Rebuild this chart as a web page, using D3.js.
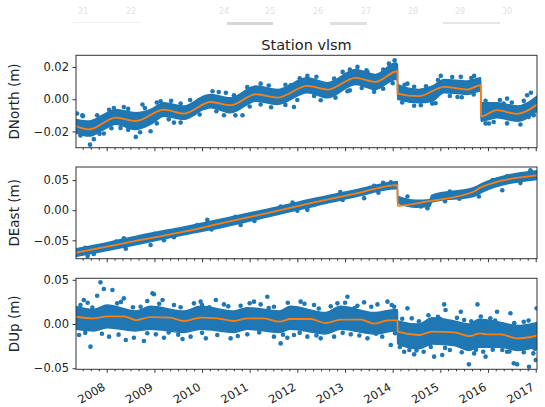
<html>
<head>
<meta charset='utf-8'>
<script src='https://d3js.org/d3.v7.min.js'></script>
<style>
  body { margin: 0; background: #fff; }
  text { font-family: 'DejaVu Sans', sans-serif; fill: #222; }
</style>
</head>
<body>
<div id='chart'></div>
<script>
// ---- data (time in fractional years) ----
const title = 'Station vlsm';
const yearTicks = [2008, 2009, 2010, 2011, 2012, 2013, 2014, 2015, 2016, 2017];

// DNorth
const northTrend = [[2007.35,-0.0166],[2007.63,-0.0187],[2008.19,-0.0114],[2008.61,-0.0135],[2009.20,-0.0064],[2009.62,-0.0089],
  [2010.18,-0.0017],[2010.60,-0.0037],[2011.13,0.0031],[2011.58,0.0010],[2012.21,0.0083],[2012.63,0.0060],[2013.22,0.0133],
  [2013.64,0.0108],[2014.10,0.0174],[2014.103,0.0035],[2014.55,0.0019],[2015.08,0.0077],[2015.56,0.0060],[2015.85,0.0087],
  [2015.853,-0.0106],[2016.19,-0.0068],[2016.61,-0.0091],[2017.03,-0.0033]];
const northBand = [[2007.35,-0.0208,-0.0125],[2007.63,-0.0229,-0.0135],[2007.94,-0.0188,-0.0094],[2008.19,-0.0156,-0.0063],
  [2008.61,-0.0188,-0.0084],[2008.92,-0.0156,-0.0063],[2009.20,-0.0105,-0.0022],[2009.62,-0.0125,-0.0042],[2010.04,-0.0063,0.0020],
  [2010.18,-0.0053,0.0030],[2010.60,-0.0084,0.0009],[2011.13,-0.0012,0.0082],[2011.58,-0.0032,0.0061],[2012.21,0.0040,0.0134],
  [2012.63,0.0009,0.0103],[2013.22,0.0092,0.0185],[2013.64,0.0061,0.0154],[2014.06,0.0123,0.0227],[2014.10,0.0123,0.0215],
  [2014.103,-0.0001,0.0092],[2014.55,-0.0022,0.0061],[2014.83,-0.0012,0.0082],[2015.08,0.0040,0.0123],[2015.56,0.0030,0.0113],
  [2015.85,0.0051,0.0134],[2015.853,-0.0136,-0.0022],[2016.19,-0.0115,-0.0022],[2016.61,-0.0136,-0.0042],[2017.03,-0.0074,0.0020]];
const northDots = [[2007.65,-0.0282],[2007.38,-0.0089],[2007.49,-0.0099],[2007.73,-0.0248],[2008.61,-0.0234],[2008.92,-0.0199],
  [2008.15,-0.0054],[2008.75,-0.0033],[2009.55,-0.0027],[2010.22,0.0050],[2010.85,-0.0099],[2012.21,0.0145],[2013.26,0.0201],
  [2014.04,0.0242],[2013.92,0.0221],[2014.83,-0.0027],[2015.43,0.0139],[2016.02,-0.0151],[2016.68,-0.0157],[2016.82,0.0025],
  [2016.33,-0.0027],[2008.36,-0.0048],[2009.13,-0.0012],[2009.90,-0.0037],[2010.67,0.0025],[2011.23,0.0097],[2011.86,0.0087],
  [2012.77,0.0128],[2013.47,0.0170],[2014.31,0.0097],[2015.01,0.0145],[2015.71,0.0145],[2016.40,0.0004],[2007.94,-0.0213],
  [2008.29,-0.0178],[2009.41,-0.0145],[2009.83,-0.0089],[2010.46,-0.0099],[2011.23,-0.0033],[2011.93,-0.0048],[2012.49,-0.0006],
  [2013.05,0.0050],[2013.61,0.0046],[2014.59,-0.0037],[2015.36,0.0014],[2016.12,-0.0141],[2016.96,-0.0099],
  [2007.50,-0.0105],[2007.80,-0.0100],[2008.05,-0.0065],[2008.45,-0.0060],[2008.80,-0.0055],[2009.05,-0.0020],[2009.35,-0.0010],
  [2009.75,-0.0005],[2010.35,0.0045],[2010.50,0.0040],[2010.95,0.0075],[2011.40,0.0085],[2011.75,0.0090],[2012.05,0.0130],
  [2012.40,0.0140],[2012.95,0.0170],[2013.10,0.0185],[2013.45,0.0180],[2013.80,0.0185],[2014.25,0.0090],[2014.45,0.0078],
  [2014.70,0.0080],[2014.95,0.0120],[2015.25,0.0138],[2015.65,0.0132],[2015.95,-0.0010],[2016.25,-0.0005],[2016.50,-0.0020],
  [2016.75,-0.0010],[2016.90,0.0040],
  [2007.45,-0.0225],[2007.85,-0.0215],[2008.10,-0.0180],[2008.45,-0.0190],[2008.70,-0.0205],[2009.05,-0.0150],[2009.30,-0.0125],
  [2009.55,-0.0145],[2009.95,-0.0095],[2010.30,-0.0075],[2010.70,-0.0100],[2011.00,-0.0045],[2011.45,-0.0050],[2011.75,-0.0035],
  [2012.00,-0.0005],[2012.35,0.0020],[2012.80,0.0010],[2013.10,0.0055],[2013.35,0.0070],[2013.80,0.0065],[2014.00,0.0100],
  [2014.20,-0.0020],[2014.45,-0.0040],[2014.90,-0.0025],[2015.20,0.0020],[2015.45,0.0012],[2015.70,0.0030],[2015.95,-0.0150],
  [2016.40,-0.0150],[2016.85,-0.0110]];

// DEast
const eastTrend = [[2007.35,-0.0706],[2008.01,-0.0606],[2008.71,-0.0494],[2009.62,-0.0356],[2010.46,-0.0206],[2011.37,-0.0050],
  [2012.35,0.0128],[2013.26,0.0283],[2014.10,0.0417],[2014.103,0.0072],[2014.73,0.0145],[2015.71,0.0311],[2015.86,0.0383],
  [2017.03,0.0578]];
const eastBand = [[2007.35,-0.0768,-0.0639],[2008.01,-0.0668,-0.0539],[2008.71,-0.0556,-0.0416],[2009.62,-0.0406,-0.0277],
  [2010.46,-0.0279,-0.0138],[2011.37,-0.0112,0.0017],[2012.35,0.0066,0.0195],[2013.26,0.0233,0.0345],[2014.06,0.0355,0.0473],
  [2014.10,0.0355,0.0475],[2014.103,0.0122,0.0234],[2014.50,0.0050,0.0165],[2014.78,0.0065,0.0175],[2014.82,0.0135,0.0250],
  [2015.71,0.0233,0.0378],[2015.88,0.0300,0.0445],[2017.03,0.0511,0.0656]];
const eastDots = [[2007.73,-0.0728],[2008.92,-0.0578],[2008.36,-0.0467],[2010.11,-0.0161],[2011.65,0.0061],[2012.63,0.0200],
  [2013.61,0.0406],[2013.96,0.0461],[2014.31,0.0228],[2014.59,0.0061],[2015.57,0.0311],[2015.81,0.0228],[2016.40,0.0561],
  [2016.89,0.0661],[2009.41,-0.0450],[2010.81,-0.0245],[2012.21,0.0006],[2013.40,0.0200],[2014.73,0.0033],[2016.68,0.0450],
  [2007.55,-0.0625],[2008.20,-0.0520],[2009.00,-0.0390],[2009.90,-0.0245],[2010.70,-0.0110],[2011.90,0.0125],[2012.90,0.0300],
  [2013.80,0.0455],[2015.20,0.0310],[2016.10,0.0500],[2016.70,0.0600],
  [2007.60,-0.0760],[2008.40,-0.0640],[2009.20,-0.0500],[2010.20,-0.0320],[2011.10,-0.0180],[2012.00,-0.0010],[2012.95,0.0170],
  [2013.70,0.0290],[2015.10,0.0150],[2015.40,0.0190],[2016.30,0.0330]];

// DUp
const upTrend = [[2007.35,0.0083],[2007.73,0.0064],[2008.01,0.0087],[2008.36,0.0087],[2008.61,0.0045],[2008.92,0.0079],
  [2009.34,0.0072],[2009.62,0.0034],[2009.97,0.0072],[2010.32,0.0064],[2010.67,0.0034],[2010.95,0.0064],[2011.30,0.0064],
  [2011.62,0.0026],[2011.86,0.0057],[2012.28,0.0057],[2012.59,0.0011],[2012.91,0.0049],[2013.33,0.0049],[2013.61,0.0004],
  [2013.89,0.0041],[2014.10,0.0041],[2014.103,-0.0087],[2014.55,-0.0124],[2014.83,-0.0087],[2015.29,-0.0094],[2015.60,-0.0136],
  [2015.79,-0.0110],[2015.83,-0.0106],[2015.98,-0.0117],[2016.27,-0.0117],[2016.61,-0.0162],[2017.03,-0.0132]];
const upBand = [[2007.35,-0.0060,0.0200],[2007.73,-0.0078,0.0165],[2008.01,-0.0042,0.0215],[2008.61,-0.0078,0.0148],
  [2008.92,-0.0060,0.0200],[2009.62,-0.0095,0.0148],[2009.97,-0.0060,0.0200],[2010.67,-0.0095,0.0148],[2010.95,-0.0060,0.0185],
  [2011.62,-0.0095,0.0148],[2011.86,-0.0060,0.0200],[2012.59,-0.0112,0.0130],[2012.91,-0.0060,0.0200],[2013.61,-0.0112,0.0130],
  [2014.06,-0.0078,0.0165],[2014.10,-0.0080,0.0160],[2014.103,-0.0225,0.0035],[2014.55,-0.0280,0.0000],[2014.83,-0.0225,0.0072],
  [2015.29,-0.0243,0.0035],[2015.60,-0.0298,0.0000],[2015.81,-0.0262,0.0054],[2016.27,-0.0262,0.0018],[2016.61,-0.0298,-0.0018],
  [2017.03,-0.0262,0.0018]];
const upDots = [[2007.87,0.0471],[2007.94,0.0396],[2008.12,0.0385],[2007.80,0.0320],[2007.52,0.0271],[2007.66,-0.0256],
  [2008.40,-0.0181],[2008.57,-0.0155],[2008.78,-0.0192],[2008.96,0.0347],[2008.99,0.0336],[2009.17,0.0271],[2008.36,0.0290],
  [2009.20,-0.0155],[2009.59,-0.0170],[2009.97,0.0253],[2010.29,0.0271],[2010.08,-0.0162],[2010.60,-0.0162],[2011.09,0.0253],
  [2011.37,0.0309],[2011.65,-0.0219],[2011.79,-0.0155],[2012.07,0.0253],[2012.21,-0.0143],[2012.49,-0.0162],[2012.84,0.0234],
  [2013.05,0.0309],[2013.40,0.0245],[2013.47,-0.0162],[2013.89,0.0253],[2014.03,0.0196],[2013.96,-0.0238],[2014.24,-0.0313],
  [2014.45,-0.0343],[2014.73,-0.0219],[2014.87,-0.0369],[2015.04,-0.0351],[2015.08,0.0222],[2015.11,0.0158],[2015.60,-0.0456],
  [2015.71,-0.0332],[2015.78,0.0222],[2015.95,-0.0369],[2016.19,0.0139],[2016.40,-0.0313],[2016.54,-0.0445],[2016.61,-0.0456],
  [2016.86,-0.0483],[2017.02,0.0177],[2017.00,-0.0407],[2016.47,0.0121],[2015.43,0.0139],[2014.31,0.0177],
  [2007.45,0.0215],[2008.22,0.0234],[2008.71,0.0196],[2009.41,0.0215],[2009.83,0.0234],[2010.46,0.0222],[2010.81,0.0207],
  [2011.23,0.0222],[2011.51,0.0196],[2012.35,0.0215],[2013.26,0.0207],[2013.68,0.0222],
  [2007.42,-0.0124],[2008.05,-0.0143],[2009.03,-0.0117],[2009.76,-0.0143],[2010.32,-0.0124],[2010.95,-0.0117],[2011.51,-0.0143],
  [2011.93,-0.0124],[2012.77,-0.0143],[2013.12,-0.0117],[2013.78,-0.0143],
  [2014.40,0.0064],[2014.95,0.0083],[2015.50,0.0045],[2016.05,0.0064],[2016.75,0.0026],
  [2014.35,-0.0294],[2014.65,-0.0313],[2015.20,-0.0294],[2015.90,-0.0313],[2016.30,-0.0294],[2016.95,-0.0332],
  [2007.60,0.0240],[2007.70,0.0185],[2008.30,0.0250],[2008.55,0.0190],[2008.85,0.0260],[2009.10,0.0230],[2009.55,0.0190],
  [2010.00,0.0215],[2010.15,0.0190],[2010.55,0.0200],[2011.00,0.0235],[2011.40,0.0180],[2011.80,0.0240],[2012.15,0.0230],
  [2012.45,0.0175],[2012.70,0.0200],[2013.00,0.0240],[2013.20,0.0180],[2013.55,0.0195],[2013.98,0.0215],
  [2007.55,-0.0100],[2007.90,-0.0110],[2008.25,-0.0120],[2008.85,-0.0105],[2009.30,-0.0095],[2009.50,-0.0120],[2010.00,-0.0100],
  [2010.75,-0.0135],[2011.20,-0.0095],[2011.70,-0.0120],[2012.05,-0.0100],[2012.40,-0.0130],[2012.95,-0.0100],[2013.30,-0.0130],
  [2013.65,-0.0110],[2014.05,-0.0105],
  [2014.20,0.0060],[2014.55,0.0030],[2014.75,0.0100],[2015.00,0.0055],[2015.35,0.0070],[2015.65,0.0030],[2015.85,0.0085],
  [2016.15,0.0040],[2016.55,0.0010],[2016.85,0.0040],
  [2014.15,-0.0260],[2014.50,-0.0300],[2014.80,-0.0260],[2015.10,-0.0270],[2015.45,-0.0320],[2015.75,-0.0290],[2016.10,-0.0290],
  [2016.45,-0.0310],[2016.75,-0.0320],[2016.98,-0.0280]];

// ---- layout ----
const W = 545, H = 407;
const xLeft = 76, xRight = 537;
const panels = [
  { label: 'DNorth (m)', top: 55.3, bottom: 147.7, domain: [-0.0301, 0.0273], ticks: [-0.02, 0, 0.02], trend: northTrend, band: northBand, dots: northDots },
  { label: 'DEast (m)', top: 167, bottom: 258.7, domain: [-0.0805, 0.0717], ticks: [-0.05, 0, 0.05], trend: eastTrend, band: eastBand, dots: eastDots },
  { label: 'DUp (m)', top: 278.3, bottom: 369.3, domain: [-0.0512, 0.0517], ticks: [-0.05, 0, 0.05], trend: upTrend, band: upBand, dots: upDots }
];

function yd(y) {
  const Y = Math.floor(y);
  const a = Date.UTC(Y, 0, 1), b = Date.UTC(Y + 1, 0, 1);
  return new Date(a + (y - Y) * (b - a));
}

const x = d3.scaleUtc().domain([yd(2007.356), yd(2017.027)]).range([xLeft, xRight]);
const majors = yearTicks.map(y => new Date(Date.UTC(y, 0, 1)));
const minors = d3.utcMonth.every(2).range(x.domain()[0], x.domain()[1]).filter(d => d.getUTCMonth() !== 0);

const svg = d3.select('#chart').append('svg').attr('width', W).attr('height', H);

// faint strip at the top of the picture
const faint = svg.append('g');
[[83,'21'],[131,'22'],[224,'24'],[270,'25'],[318,'26'],[366,'27'],[413,'28'],[460,'29'],[507,'30']].forEach(([px, t]) => {
  faint.append('text').attr('x', px).attr('y', 14).attr('font-size', 8).attr('text-anchor', 'middle').style('fill', '#e2e2e2').text(t);
});
[[73,140,1,'#f0f0f0'],[227,273,3,'#d6d6d6'],[330,367,3,'#e0e0e0'],[443,500,2,'#e6e6e6']].forEach(([a, b, h, c]) => {
  faint.append('rect').attr('x', a).attr('y', 22).attr('width', b - a).attr('height', h).attr('fill', c);
});

svg.append('text').attr('x', (xLeft + xRight) / 2).attr('y', 49.5)
  .attr('text-anchor', 'middle').attr('font-size', 14.5).text(title);

const blue = '#1f77b4', orange = '#ff7f0e';

panels.forEach((p, i) => {
  const y = d3.scaleLinear().domain(p.domain).range([p.bottom, p.top]);
  const g = svg.append('g');
  const clipId = 'clip' + i;
  svg.append('clipPath').attr('id', clipId).append('rect')
    .attr('x', xLeft).attr('y', p.top).attr('width', xRight - xLeft).attr('height', p.bottom - p.top);
  const plot = g.append('g').attr('clip-path', `url(#${clipId})`);

  const area = d3.area().curve(d3.curveMonotoneX)
    .x(d => x(yd(d[0]))).y0(d => y(d[1])).y1(d => y(d[2]));
  plot.append('path').datum(p.band).attr('d', area)
    .attr('fill', blue).attr('stroke', blue).attr('stroke-width', 1.5).attr('stroke-linejoin', 'round');

  plot.selectAll('circle').data(p.dots).join('circle')
    .attr('cx', d => x(yd(d[0]))).attr('cy', d => y(d[1])).attr('r', 2.3).attr('fill', blue);

  const line = d3.line().curve(d3.curveMonotoneX).x(d => x(yd(d[0]))).y(d => y(d[1]));
  plot.append('path').datum(p.trend).attr('d', line)
    .attr('fill', 'none').attr('stroke', orange).attr('stroke-width', 1.8);

  // frame
  g.append('rect').attr('x', xLeft).attr('y', p.top).attr('width', xRight - xLeft).attr('height', p.bottom - p.top)
    .attr('fill', 'none').attr('stroke', '#333').attr('stroke-width', 1);

  // y axis
  const ya = g.append('g').attr('transform', `translate(${xLeft},0)`)
    .call(d3.axisLeft(y).tickValues(p.ticks).tickSize(3.5).tickPadding(3.5).tickFormat(d3.format('.2f')));
  ya.select('.domain').remove();
  ya.selectAll('text').attr('font-size', 11.5).style('font-family', 'DejaVu Sans').style('fill', '#222');
  ya.selectAll('line').attr('stroke', '#333');

  // x axis, year ticks and two-month minor ticks
  const xa = g.append('g').attr('transform', `translate(0,${p.bottom})`)
    .call(d3.axisBottom(x).tickValues(majors).tickSize(3.5).tickFormat(i === 2 ? d3.utcFormat('%Y') : ''));
  xa.select('.domain').remove();
  xa.selectAll('line').attr('stroke', '#333');
  const xm = g.append('g').attr('transform', `translate(0,${p.bottom})`)
    .call(d3.axisBottom(x).tickValues(minors).tickSize(2).tickFormat(''));
  xm.select('.domain').remove();
  xm.selectAll('line').attr('stroke', '#333');
  if (i === 2) {
    xa.selectAll('text')
      .attr('font-size', 11.5).style('font-family', 'DejaVu Sans').style('fill', '#222')
      .attr('text-anchor', 'end').attr('dy', null).attr('y', null)
      .attr('transform', 'translate(-1,20) rotate(-30)');
  }

  svg.append('text')
    .attr('transform', `translate(19,${(p.top + p.bottom) / 2}) rotate(-90)`)
    .attr('text-anchor', 'middle').attr('font-size', 13.5).text(p.label);
});
</script>
</body>
</html>
